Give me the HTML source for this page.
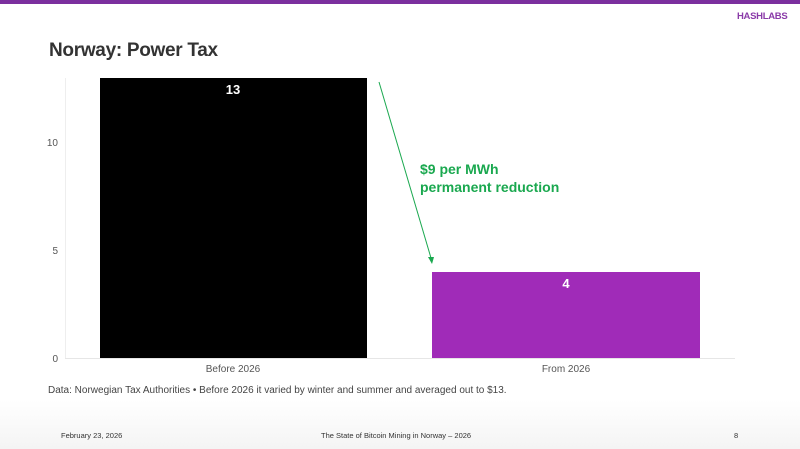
<!DOCTYPE html>
<html><head><meta charset="utf-8"><style>
body{margin:0;width:800px;height:449px;overflow:hidden;background:#fff;font-family:"Liberation Sans",sans-serif;position:relative}
.a{position:absolute;white-space:nowrap}
</style></head><body>
<div class="a" style="left:0;top:0;width:800px;height:4px;background:#7b2f9e"></div>
<div class="a" style="left:0;top:400px;width:800px;height:49px;background:linear-gradient(#fff,#f4f4f4)"></div>
<div class="a" style="left:737px;top:11px;font-size:9.5px;font-weight:bold;color:#8a3aa8;letter-spacing:-0.3px">HASHLABS</div>
<div class="a" style="left:49px;top:40px;font-size:19px;font-weight:bold;color:#333;letter-spacing:-0.3px">Norway: Power Tax</div>
<svg class="a" style="left:0;top:0" width="800" height="449">
<line x1="65.5" y1="78" x2="65.5" y2="358" stroke="#eee"/>
<line x1="65" y1="358.5" x2="735" y2="358.5" stroke="#e6e6e6"/>
<rect x="100" y="78" width="267" height="280" fill="#000"/>
<rect x="432" y="272" width="268" height="86" fill="#a02bb8"/>
<line x1="379" y1="82" x2="431" y2="258" stroke="#1aa84f" stroke-width="1"/>
<polygon points="428,257 434,257 432,264" fill="#1aa84f"/>
<g font-family="Liberation Sans" fill="#555" font-size="10">
<text x="58" y="146" text-anchor="end">10</text>
<text x="58" y="254" text-anchor="end">5</text>
<text x="58" y="362" text-anchor="end">0</text>
<text x="233" y="372" text-anchor="middle">Before 2026</text>
<text x="566" y="372" text-anchor="middle">From 2026</text>
</g>
<text x="233" y="94" text-anchor="middle" fill="#fff" font-size="13" font-weight="bold">13</text>
<text x="566" y="288" text-anchor="middle" fill="#fff" font-size="13" font-weight="bold">4</text>
<text x="420" y="174" fill="#1aa84f" font-size="14" font-weight="bold">$9 per MWh</text>
<text x="420" y="192" fill="#1aa84f" font-size="14" font-weight="bold">permanent reduction</text>
</svg>
<div class="a" style="left:48px;top:385px;font-size:10px;color:#444">Data: Norwegian Tax Authorities • Before 2026 it varied by winter and summer and averaged out to $13.</div>
<div class="a" style="left:61px;top:431px;font-size:7.5px;color:#333">February 23, 2026</div>
<div class="a" style="left:321px;top:431px;font-size:7.5px;color:#333">The State of Bitcoin Mining in Norway – 2026</div>
<div class="a" style="left:734px;top:431px;font-size:7.5px;color:#333">8</div>
</body></html>
